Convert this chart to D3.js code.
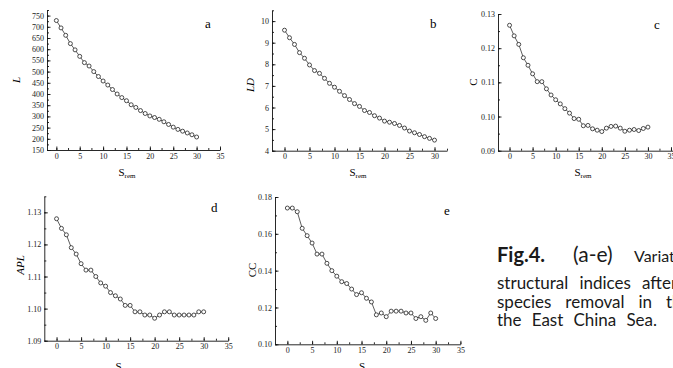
<!DOCTYPE html>
<html>
<head>
<meta charset="utf-8">
<script src="https://cdn.jsdelivr.net/npm/d3@7/dist/d3.min.js"></script>
<style>
  body { margin: 0; background: #fff; }
  svg { display: block; }
  .tick text { font-family: "Liberation Serif", serif; font-size: 8px; fill: #222; }
  .axis path, .axis line { stroke: #111; stroke-width: 0.9; }
</style>
</head>
<body>
<div id="chart"></div>
<script>
// species removed (x)
var sRem = [0, 1, 2, 3, 4, 5, 6, 7, 8, 9, 10, 11, 12, 13, 14, 15, 16, 17, 18, 19, 20,
            21, 22, 23, 24, 25, 26, 27, 28, 29, 30];

// structural indices
var L = [728, 695, 662, 625, 597, 568, 540, 525, 500, 478, 458, 440, 420, 400, 384, 370,
         352, 340, 326, 313, 302, 295, 287, 276, 264, 252, 242, 234, 226, 218, 208];
var LD = [9.58, 9.23, 8.92, 8.54, 8.28, 7.97, 7.71, 7.58, 7.35, 7.12, 6.94, 6.75, 6.55, 6.37,
          6.18, 6.05, 5.86, 5.77, 5.62, 5.51, 5.37, 5.32, 5.26, 5.17, 5.05, 4.91, 4.83, 4.75,
          4.65, 4.57, 4.49];
var C = [0.1267, 0.1236, 0.1211, 0.1172, 0.1150, 0.1125, 0.1102, 0.1102, 0.1081, 0.1063,
         0.1049, 0.1037, 0.1023, 0.1010, 0.0994, 0.0992, 0.0973, 0.0974, 0.0964, 0.0960,
         0.0956, 0.0966, 0.0971, 0.0972, 0.0966, 0.0957, 0.0960, 0.0962, 0.0959, 0.0965, 0.0969];
var APL = [1.128, 1.125, 1.123, 1.119, 1.117, 1.114, 1.112, 1.112, 1.110, 1.108, 1.107,
           1.105, 1.104, 1.103, 1.101, 1.101, 1.099, 1.099, 1.098, 1.098, 1.097, 1.098,
           1.099, 1.099, 1.098, 1.098, 1.098, 1.098, 1.098, 1.099, 1.099];
var CC = [0.174, 0.174, 0.172, 0.163, 0.159, 0.155, 0.149, 0.149, 0.144, 0.140, 0.137,
          0.134, 0.133, 0.130, 0.127, 0.128, 0.125, 0.123, 0.116, 0.117, 0.115, 0.118,
          0.118, 0.118, 0.117, 0.117, 0.114, 0.115, 0.113, 0.117, 0.114];

// tick labels
var xTicks35 = [0, 5, 10, 15, 20, 25, 30, 35];
var xTicks30 = [0, 5, 10, 15, 20, 25, 30];
var yTicksL = [150, 200, 250, 300, 350, 400, 450, 500, 550, 600, 650, 700, 750];
var yTicksLD = [4, 5, 6, 7, 8, 9, 10];
var yTicksC = [0.09, 0.10, 0.11, 0.12, 0.13];
var yTicksAPL = [1.09, 1.10, 1.11, 1.12, 1.13];
var yTicksCC = [0.10, 0.12, 0.14, 0.16, 0.18];

var width = 673, height = 368;

var svg = d3.select("#chart").append("svg")
    .attr("width", width)
    .attr("height", height);

// panel layout (pixel boxes), data is attached by name
var panels = [
  { key: "a", values: L, yLab: "L", italic: true,
    x0: 47, x1: 220, y0: 150, y1: 10,
    xDom: [-2, 35], yDom: [150, 775], xTicks: xTicks35, yTicks: yTicksL, yMinor: 25, fmt: d3.format("d"),
    labX: 20, labY: 80, letX: 205, letY: 28, sX: 127, sY: 176 },
  { key: "b", values: LD, yLab: "LD", italic: true,
    x0: 272, x1: 447, y0: 150.7, y1: 10.3,
    xDom: [-2.5, 32.5], yDom: [4, 10.5], xTicks: xTicks30, yTicks: yTicksLD, yMinor: 0.5, fmt: d3.format("d"),
    labX: 254, labY: 85, letX: 430, letY: 28, sX: 358, sY: 176 },
  { key: "c", values: C, yLab: "C", italic: false,
    x0: 498, x1: 675.6, y0: 150.7, y1: 14,
    xDom: [-2.5, 36], yDom: [0.09, 0.13], xTicks: xTicks35, yTicks: yTicksC, yMinor: 0.005, fmt: d3.format(".2f"),
    labX: 477, labY: 82, letX: 654, letY: 29, sX: 583, sY: 176 },
  { key: "d", values: APL, yLab: "APL", italic: true,
    x0: 44.3, x1: 228.2, y0: 340.7, y1: 196.3,
    xDom: [-2.5, 35], yDom: [1.09, 1.135], xTicks: xTicks35, yTicks: yTicksAPL, yMinor: 0.005, fmt: d3.format(".2f"),
    labX: 24, labY: 265, letX: 211, letY: 212, sX: 124, sY: 370 },
  { key: "e", values: CC, yLab: "CC", italic: false,
    x0: 275, x1: 460.4, y0: 344.3, y1: 197,
    xDom: [-2.5, 35], yDom: [0.10, 0.18], xTicks: xTicks35, yTicks: yTicksCC, yMinor: 0.01, fmt: d3.format(".2f"),
    labX: 256, labY: 270, letX: 444, letY: 215, sX: 362, sY: 370, noSub: true }
];

panels.forEach(function(p) {
  var x = d3.scaleLinear().domain(p.xDom).range([p.x0, p.x1]);
  var y = d3.scaleLinear().domain(p.yDom).range([p.y0, p.y1]);
  var g = svg.append("g").attr("class", "panel-" + p.key);

  // minor ticks
  var xMinor = d3.range(0, p.xDom[1] + 0.01, 2.5);
  var yMinorVals = d3.range(p.yDom[0], p.yDom[1] + 1e-9, p.yMinor);

  g.append("g").attr("class", "axis")
      .attr("transform", "translate(0," + p.y0 + ")")
      .call(d3.axisBottom(x).tickValues(xMinor).tickSize(-2).tickSizeOuter(0).tickFormat(""))
      .select(".domain").remove();
  g.append("g").attr("class", "axis")
      .attr("transform", "translate(" + p.x0 + ",0)")
      .call(d3.axisLeft(y).tickValues(yMinorVals).tickSize(-2).tickSizeOuter(0).tickFormat(""))
      .select(".domain").remove();

  // major ticks + axis lines
  g.append("g").attr("class", "axis")
      .attr("transform", "translate(0," + p.y0 + ")")
      .call(d3.axisBottom(x).tickValues(p.xTicks).tickSize(-3.5).tickSizeOuter(0).tickPadding(3));
  g.append("g").attr("class", "axis")
      .attr("transform", "translate(" + p.x0 + ",0)")
      .call(d3.axisLeft(y).tickValues(p.yTicks).tickSize(-3.5).tickSizeOuter(0).tickPadding(3).tickFormat(p.fmt));

  // series
  var line = d3.line()
      .x(function(d, i) { return x(sRem[i]); })
      .y(function(d) { return y(d); });

  g.append("path")
      .datum(p.values)
      .attr("d", line)
      .attr("fill", "none")
      .attr("stroke", "#333")
      .attr("stroke-width", 0.8);

  g.selectAll("circle")
      .data(p.values)
      .enter().append("circle")
      .attr("cx", function(d, i) { return x(sRem[i]); })
      .attr("cy", function(d) { return y(d); })
      .attr("r", 2)
      .attr("fill", "#fff")
      .attr("stroke", "#222")
      .attr("stroke-width", 0.8);

  // y label
  g.append("text")
      .attr("transform", "translate(" + p.labX + "," + p.labY + ") rotate(-90)")
      .attr("text-anchor", "middle")
      .style("font-family", "Liberation Serif, serif")
      .style("font-size", "11px")
      .style("font-style", p.italic ? "italic" : "normal")
      .text(p.yLab);

  // panel letter
  g.append("text")
      .attr("x", p.letX).attr("y", p.letY)
      .style("font-family", "Liberation Serif, serif")
      .style("font-size", "13px")
      .text(p.key);

  // x label S_rem
  var s = g.append("text")
      .attr("x", p.sX).attr("y", p.sY)
      .attr("text-anchor", "middle")
      .style("font-family", "Liberation Serif, serif")
      .style("font-size", "11px");
  s.append("tspan").text("S");
  if (!p.noSub) {
    s.append("tspan").attr("dy", 2).style("font-size", "7px").text("rem");
  }
});

// caption (runs off the right edge like the source crop)
var cap = svg.append("g").style("font-family", "Lato, sans-serif").style("fill", "#1a1a1a");

cap.append("text").attr("x", 497).attr("y", 262)
    .style("font-size", "20px").style("font-weight", "bold").text("Fig.4.");
cap.append("text").attr("x", 573).attr("y", 262)
    .style("font-size", "21px").text("(a-e)");
cap.append("text").attr("x", 634).attr("y", 262)
    .style("font-size", "16px").text("Variations of");

// justified lines: spread words so the last one starts where it does in the source
function justify(words, y, x0, lastX) {
  var nodes = words.map(function(w) {
    return cap.append("text").attr("y", y).style("font-size", "17px").text(w);
  });
  var used = 0;
  nodes.slice(0, -1).forEach(function(n) { used += n.node().getComputedTextLength(); });
  var gap = (lastX - x0 - used) / (nodes.length - 1);
  var cx = x0;
  nodes.forEach(function(n) {
    n.attr("x", cx);
    cx += n.node().getComputedTextLength() + gap;
  });
}
justify(["structural", "indices", "after"], 289, 497, 642);
justify(["species", "removal", "in", "the"], 307.5, 497, 666);

// last line ends near x = 657 in the source
var last = cap.append("text")
    .attr("x", 497).attr("y", 326)
    .style("font-size", "17px")
    .text("the East China Sea.");
var extra = (160 - last.node().getComputedTextLength()) / 3;
last.style("word-spacing", Math.max(0, extra) + "px");
</script>
</body>
</html>
